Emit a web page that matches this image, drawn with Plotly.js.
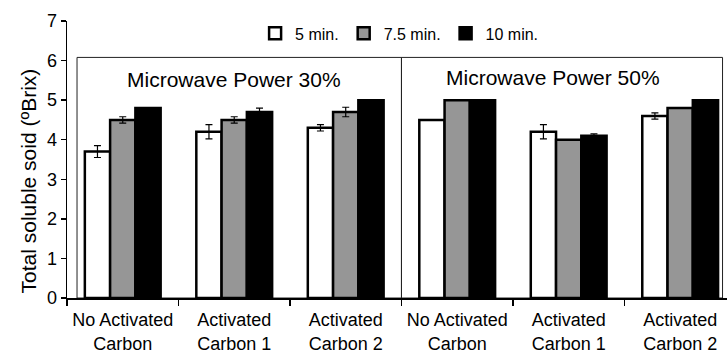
<!DOCTYPE html>
<html>
<head>
<meta charset="utf-8">
<script src="https://cdn.plot.ly/plotly-3.0.1.min.js"></script>
<style>html,body{margin:0;padding:0;background:#fff;}#chart{width:727px;height:354px;}</style>
</head>
<body>
<div id="chart"></div>
<script>
// ---- data ----
const categories = ["No Activated<br>Carbon", "Activated<br>Carbon 1", "Activated<br>Carbon 2",
                    "No Activated<br>Carbon", "Activated<br>Carbon 1", "Activated<br>Carbon 2"];
const seriesNames = ["5 min.", "7.5 min.", "10 min."];
const values5 = [3.7, 4.2, 4.3, 4.5, 4.2, 4.6];
const err5    = [0.15, 0.18, 0.08, 0, 0.18, 0.08];
const values75 = [4.5, 4.5, 4.7, 5.0, 4.0, 4.8];
const err75    = [0.08, 0.08, 0.12, 0, 0, 0];
const values10 = [4.8, 4.7, 5.0, 5.0, 4.1, 5.0];
const err10    = [0, 0.1, 0, 0, 0.05, 0];
const panelTitles = ["Microwave Power 30%", "Microwave Power 50%"];
const yTitle = "Total soluble soid (ºBrix)";

const xpos = categories.map((c, i) => i);
const font = "Arial";

function bar(name, vals, errs, fill) {
  return {
    type: "bar", name: name, x: xpos, y: vals,
    marker: {color: fill, line: {color: "#000", width: 2.5}},
    error_y: {type: "data", array: errs, visible: true, color: "#000", thickness: 1.2, width: 3.5},
    hoverinfo: "skip"
  };
}
const traces = [
  bar(seriesNames[0], values5, err5, "#ffffff"),
  bar(seriesNames[1], values75, err75, "#969696"),
  bar(seriesNames[2], values10, err10, "#000000")
];

const layout = {
  width: 727, height: 354,
  margin: {l: 67, r: 0, t: 21, b: 56},
  paper_bgcolor: "#fff", plot_bgcolor: "#fff",
  font: {family: font, color: "#000", size: 18},
  barmode: "group", bargap: 0.32, bargroupgap: 0,
  showlegend: true,
  legend: {orientation: "h", x: 0.285, y: 0.955, xanchor: "left", yanchor: "middle",
           font: {size: 16, family: font}, bgcolor: "rgba(0,0,0,0)", traceorder: "normal"},
  xaxis: {
    range: [-0.5, 5.42], tickmode: "array", tickvals: xpos, ticktext: categories,
    ticks: "", ticklabelstandoff: 5, ticklabeloverflow: "allow",
    showline: true, linecolor: "#000", linewidth: 1.5, showgrid: false, zeroline: false,
    tickfont: {size: 18, family: font},
    minor: {tick0: 0.5, dtick: 1, ticks: "outside", ticklen: 6, tickwidth: 1.5, tickcolor: "#000", showgrid: false}
  },
  yaxis: {
    range: [0, 7], dtick: 1, ticks: "outside", ticklen: 5, tickwidth: 1.5, tickcolor: "#000",
    showline: true, linecolor: "#000", linewidth: 1.5, showgrid: false, zeroline: false,
    tickfont: {size: 18, family: font}
  },
  shapes: [
    {type: "rect", xref: "x", yref: "y", x0: -0.41, x1: 2.5, y0: 0, y1: 6.08,
     line: {color: "#222", width: 1}, layer: "below"},
    {type: "rect", xref: "x", yref: "y", x0: 2.5, x1: 5.38, y0: 0, y1: 6.08,
     line: {color: "#222", width: 1}, layer: "below"}
  ],
  annotations: [
    {text: panelTitles[0], xref: "x", yref: "y", x: 1.0, y: 5.52, showarrow: false,
     font: {size: 21, family: font}},
    {text: panelTitles[1], xref: "x", yref: "y", x: 3.86, y: 5.57, showarrow: false,
     font: {size: 21, family: font}},
    {text: yTitle, xref: "paper", yref: "paper", x: -0.079, y: 0.422, textangle: -90,
     showarrow: false, font: {size: 21, family: font}}
  ]
};

Plotly.newPlot("chart", traces, layout, {displayModeBar: false, staticPlot: true});
</script>
</body>
</html>
